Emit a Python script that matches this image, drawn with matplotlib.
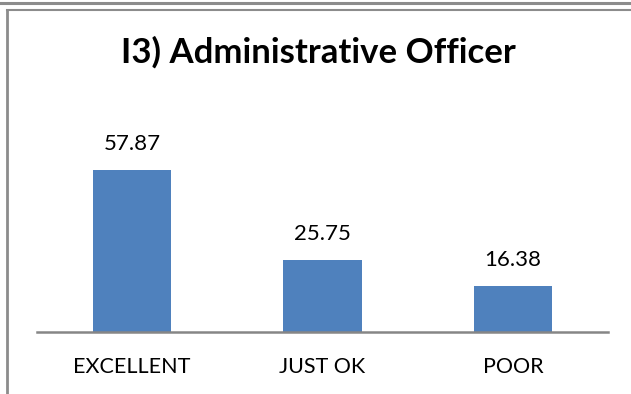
import matplotlib.pyplot as plt
from matplotlib.lines import Line2D

categories = ["EXCELLENT", "JUST OK", "POOR"]
values = [57.87, 25.75, 16.38]
title = "I3) Administrative Officer"

W, H = 631, 394
fig = plt.figure(figsize=(W / 100, H / 100), dpi=100)
plt.rcParams['font.family'] = ['Lato', 'DejaVu Sans']

# axes box in pixel terms: baseline at y=332, left 37, right 608
ax = fig.add_axes([37 / W, (H - 332) / H, (608 - 37) / W, (332 - 100) / H])
x = list(range(len(categories)))
bars = ax.bar(x, values, width=0.41, color="#4F81BD", zorder=2)
ax.set_xlim(-0.5, 2.5)
ax.set_ylim(0, 232 / 2.8)

for b, v in zip(bars, values):
    ax.annotate(f"{v:.2f}", (b.get_x() + b.get_width() / 2, v),
                xytext=(0, 14.4), textcoords="offset points",
                ha="center", va="baseline", fontsize=16, color="black")

ax.set_xticks(x)
ax.set_xticklabels(categories, fontsize=15.5)
ax.tick_params(axis="x", length=0, pad=18)
ax.set_yticks([])
for s in ["top", "right", "left"]:
    ax.spines[s].set_visible(False)
ax.spines["bottom"].set_color("#868686")
ax.spines["bottom"].set_linewidth(1.8)
ax.spines["bottom"].set_zorder(3)

fig.text(318 / W, 1 - 63 / H, title, ha="center", va="baseline",
         fontsize=25, fontweight="bold")

# chart borders
gray = "#8c8c8c"
fig.add_artist(Line2D([0, 1], [1 - 3 / H, 1 - 3 / H], color=gray, lw=2.2))
fig.add_artist(Line2D([7 / W, 1], [1 - 9.5 / H, 1 - 9.5 / H], color=gray, lw=1.5))
fig.add_artist(Line2D([7 / W, 7 / W], [0, 1 - 9.5 / H], color=gray, lw=2))

fig.savefig("out.png", dpi=100)
